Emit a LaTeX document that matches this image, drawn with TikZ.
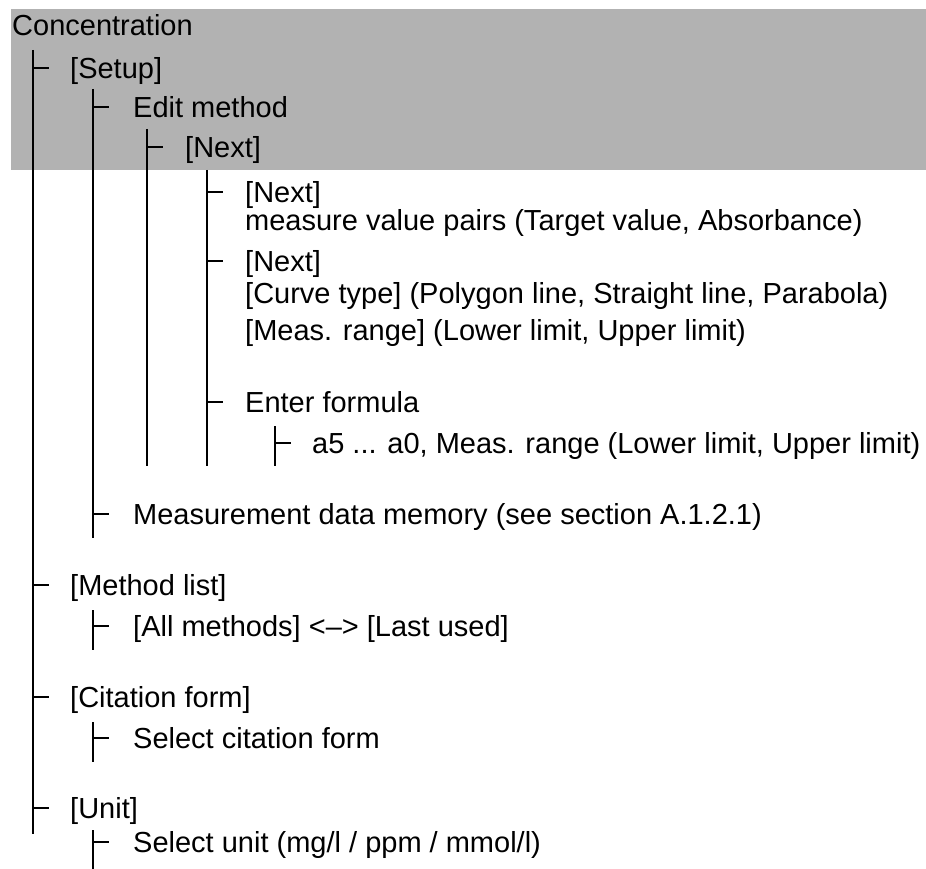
\documentclass[tikz,border=0pt]{standalone}
\usepackage{fontspec}
\setmainfont{Liberation Sans}
\begin{document}
\begin{tikzpicture}[x=1pt,y=-1pt,
  lbl/.style={anchor=base west,inner sep=0pt,font=\fontsize{29}{35}\selectfont},
  trunk/.style={line width=2.6pt},
  twig/.style={line width=2.6pt}]
\useasboundingbox (0,0) rectangle (926,869);
\fill[black!30] (11,9) rectangle (926,170);
% texts
\node[lbl] (conc)    at (12,35.4)  {Concentration};
\node[lbl] (setup)   at (70,78.4)  {[Setup]};
\node[lbl] (edit)    at (133,117.4) {Edit method};
\node[lbl] (nexta)   at (185,157.4) {[Next]};
\node[lbl] (nextb)   at (245,202.4) {[Next]};
\node[lbl] (pairs)   at (245,230.4) {measure value pairs (Target value, Absorbance)};
\node[lbl] (nextc)   at (245,271.4) {[Next]};
\node[lbl] (curve)   at (245,303.4) {[Curve type] (Polygon line, Straight line, Parabola)};
\node[lbl] (range)   at (245,340.4) {[Meas. range] (Lower limit, Upper limit)};
\node[lbl] (formula) at (245,412.4) {Enter formula};
\node[lbl] (coeff)   at (312,453.4) {a5 ... a0, Meas. range (Lower limit, Upper limit)};
\node[lbl] (memory)  at (133,524.4) {Measurement data memory (see section A.1.2.1)};
\node[lbl] (mlist)   at (70,595.4)  {[Method list]};
\node[lbl] (allm)    at (133,636.4) {[All methods] <–> [Last used]};
\node[lbl] (cite)    at (70,707.4)  {[Citation form]};
\node[lbl] (selcite) at (133,748.4) {Select citation form};
\node[lbl] (unit)    at (70,818.4)  {[Unit]};
\node[lbl] (selunit) at (133,852.4) {Select unit (mg/l / ppm / mmol/l)};
% vertical lines
\coordinate (l1t) at (33,50);  \coordinate (l1b) at (33,834);
\coordinate (l2t) at (93,89);  \coordinate (l2b) at (93,538);
\coordinate (l3t) at (147,129); \coordinate (l3b) at (147,466);
\coordinate (l4t) at (207,170); \coordinate (l4b) at (207,466);
\coordinate (l5t) at (275,426); \coordinate (l5b) at (275,466);
\coordinate (l6t) at (93,610); \coordinate (l6b) at (93,650);
\coordinate (l7t) at (93,722); \coordinate (l7b) at (93,762);
\coordinate (l8t) at (93,830); \coordinate (l8b) at (93,869);
\foreach \n in {1,...,8} \draw[trunk] (l\n t) -- (l\n b);
% ticks
\foreach \x/\y in {33/68,33/585,33/697,33/808,
                   93/107,93/514,93/626,93/738,93/842,
                   147/147,
                   207/192,207/261,207/402,
                   275/443}
  \draw[twig] (\x,\y) -- ++(16,0);
\end{tikzpicture}
\end{document}
